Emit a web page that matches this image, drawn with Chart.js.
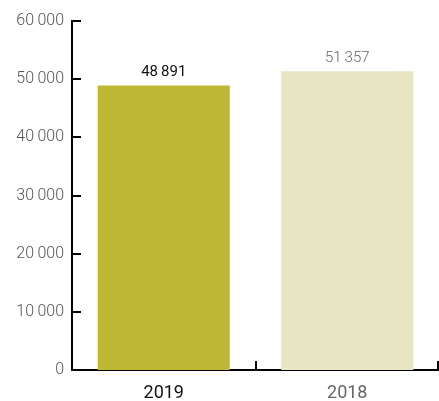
<!DOCTYPE html>
<html>
<head>
<meta charset="utf-8">
<script src="https://cdn.jsdelivr.net/npm/chart.js@4.4.1/dist/chart.umd.min.js"></script>
<style>
  html, body { margin: 0; padding: 0; background: #fff; }
  #wrap { width: 439px; height: 401px; }
</style>
</head>
<body>
<div id="wrap"><canvas id="chart"></canvas></div>
<script>
// Datos del gráfico
const categorias = ['2019', '2018'];
const valores = [48891, 51357];
const colores = ['#bfb835', '#e8e5c2'];
const coloresTexto = ['#111111', '#666666'];
const ticksY = [0, 10000, 20000, 30000, 40000, 50000, 60000];

function formato(n) {
  return String(n).replace(/\B(?=(\d{3})+(?!\d))/g, '\u2009');
}

// Marcas de eje hacia dentro + etiquetas de valor
const marcasPlugin = {
  id: 'marcas',
  afterDraw(chart) {
    const c = chart.ctx;
    const x = chart.scales.x, y = chart.scales.y;
    const area = chart.chartArea;
    c.save();
    c.strokeStyle = '#000';
    c.lineWidth = 2;
    ticksY.forEach(v => {
      const py = Math.round(y.getPixelForValue(v));
      c.beginPath();
      c.moveTo(area.left, py);
      c.lineTo(area.left + 9, py);
      c.stroke();
    });
    for (let i = 1; i <= categorias.length; i++) {
      const px = i === categorias.length ? area.right - 1
        : Math.round((x.getPixelForValue(i - 1) + x.getPixelForValue(i)) / 2);
      c.beginPath();
      c.moveTo(px, area.bottom);
      c.lineTo(px, area.bottom - 9);
      c.stroke();
    }
    const meta = chart.getDatasetMeta(0);
    c.textAlign = 'center';
    c.textBaseline = 'bottom';
    meta.data.forEach((bar, i) => {
      c.fillStyle = coloresTexto[i];
      c.font = (i === 0 ? '400' : '300') + ' 15px Roboto';
      c.fillText(formato(valores[i]), bar.x, bar.y - 6);
    });
    c.restore();
  }
};

const ctx = document.getElementById('chart').getContext('2d');
new Chart(ctx, {
  type: 'bar',
  data: {
    labels: categorias,
    datasets: [{
      data: valores,
      backgroundColor: colores,
      barPercentage: 0.72,
      categoryPercentage: 1
    }]
  },
  options: {
    responsive: true,
    maintainAspectRatio: false,
    animation: false,
    layout: { padding: { top: 21, right: 0, bottom: 0, left: 0 } },
    plugins: { legend: { display: false }, tooltip: { enabled: false } },
    scales: {
      x: {
        grid: { display: false },
        border: { color: '#000', width: 2 },
        afterFit(s) { s.height = 31; },
        ticks: {
          padding: 5,
          font: { family: 'Roboto', size: 18, weight: '400' },
          color: ctx2 => coloresTexto[ctx2.index]
        }
      },
      y: {
        min: 0,
        max: 60000,
        grid: { display: false },
        border: { color: '#000', width: 2 },
        afterFit(s) { s.width = 72; },
        afterBuildTicks(s) { s.ticks = ticksY.map(v => ({ value: v })); },
        ticks: {
          padding: 0,
          font: { family: 'Roboto', size: 16, weight: '300' },
          color: '#555',
          callback: v => formato(v)
        }
      }
    }
  },
  plugins: [marcasPlugin]
});
</script>
</body>
</html>
